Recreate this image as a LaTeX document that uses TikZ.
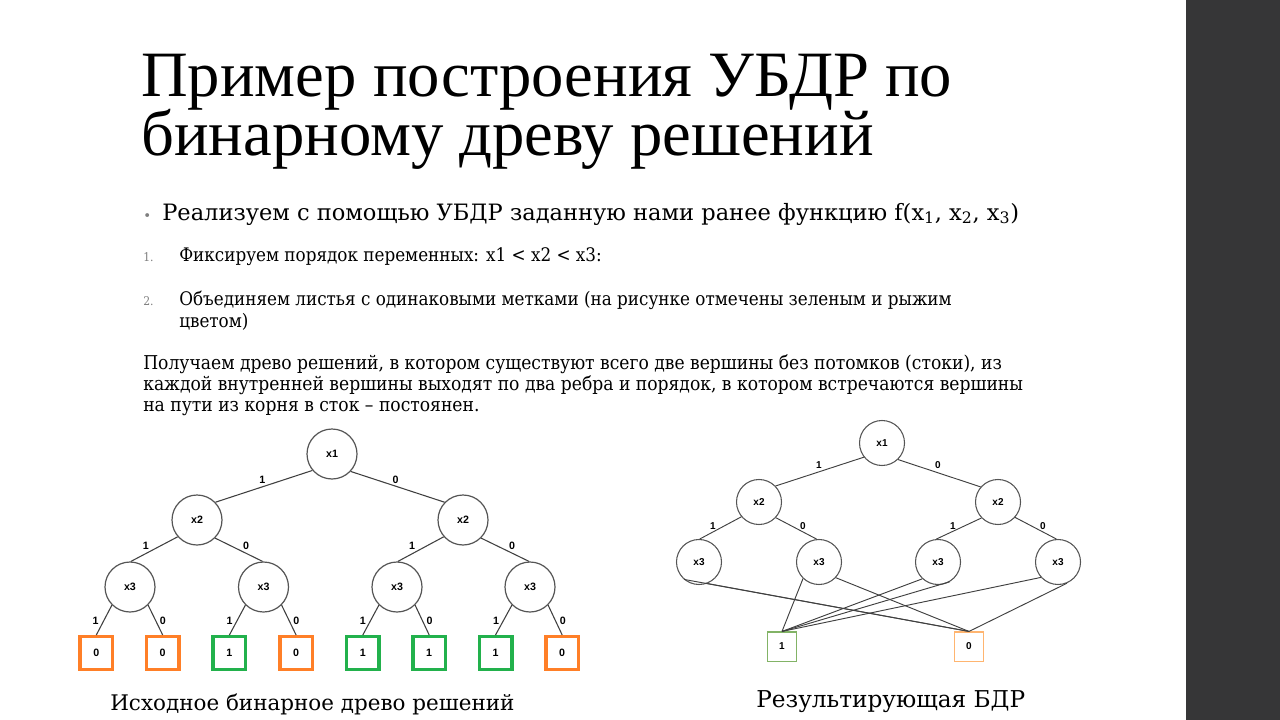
\documentclass[tikz,border=0pt]{standalone}
\usepackage{fontspec}
\setmainfont{Liberation Serif}
\newfontfamily\bodyfont{DejaVu Serif}
\newfontfamily\condfont{DejaVu Serif Condensed}
\newfontfamily\diagfont{Liberation Sans}
\definecolor{sidebar}{HTML}{363637}
\definecolor{numgray}{HTML}{7F7F7F}
\definecolor{ringgray}{HTML}{555555}
\definecolor{edgegray}{HTML}{404040}
\definecolor{leafgreen}{HTML}{22B14C}
\definecolor{leaforange}{HTML}{FF7F27}
\definecolor{sinkgreen}{HTML}{82B366}
\definecolor{sinkorange}{HTML}{FFB570}
\tikzset{
  titletext/.style={anchor=base west, inner sep=0pt, font=\fontsize{48.5}{48.5}\selectfont},
  bullettext/.style={anchor=base west, inner sep=0pt, font=\bodyfont\fontsize{16.9}{20}\selectfont},
  itemtext/.style={anchor=base west, inner sep=0pt, font=\condfont\fontsize{14}{16}\selectfont},
  numtext/.style={anchor=base west, inner sep=0pt, text=numgray, font=\condfont\fontsize{9}{11}\selectfont},
  paratext/.style={anchor=base west, inner sep=0pt, font=\condfont\fontsize{14.3}{16}\selectfont},
  captext/.style={anchor=base west, inner sep=0pt, font=\bodyfont\fontsize{16.1}{20}\selectfont},
  lnode/.style={circle, draw=ringgray, line width=0.9pt, minimum size=37.5pt, inner sep=0pt,
    font=\diagfont\bfseries\fontsize{8}{8}\selectfont},
  rnode/.style={circle, draw=ringgray, line width=0.8pt, minimum size=33.75pt, inner sep=0pt,
    font=\diagfont\bfseries\fontsize{7.5}{7.5}\selectfont},
  leafbox/.style={rectangle, line width=2.6pt, minimum size=24.4pt, inner sep=0pt,
    font=\diagfont\bfseries\fontsize{8}{8}\selectfont},
  sinkbox/.style={rectangle, line width=0.8pt, minimum size=21.8pt, inner sep=0pt,
    font=\diagfont\bfseries\fontsize{7.5}{7.5}\selectfont},
  edge/.style={draw=edgegray, line width=0.8pt},
  redge/.style={draw=edgegray, line width=0.7pt},
  elab/.style={inner sep=0pt, font=\diagfont\bfseries\fontsize{8}{8}\selectfont},
  relab/.style={inner sep=0pt, font=\diagfont\bfseries\fontsize{7.5}{7.5}\selectfont},
}
\begin{document}
\begin{tikzpicture}[x=0.75pt, y=-0.75pt]
\useasboundingbox (0,0) rectangle (1280,720);
\fill[white] (0,0) rectangle (1280,720);
\fill[sidebar] (1186,0) rectangle (1280,720);

% heading
\node[titletext] (title1) at (141,97) {Пример построения УБДР по};
\node[titletext] (title2) at (141,156) {бинарному древу решений};

% bullet and numbered items
\node[anchor=base west, inner sep=0pt, text=numgray, font=\bodyfont\fontsize{10}{10}\selectfont] (dot) at (143,220) {•};
\node[bullettext] (bul) at (162,220) {Реализуем с помощью УБДР заданную нами ранее функцию f(x\textsubscript{1}, x\textsubscript{2}, x\textsubscript{3})};
\node[numtext] (n1) at (143,262) {1.};
\node[itemtext] (it1) at (179,262) {Фиксируем порядок переменных: x1 < x2 < x3:};
\node[numtext] (n2) at (143,305) {2.};
\node[itemtext] (it2a) at (179,305) {Объединяем листья с одинаковыми метками (на рисунке отмечены зеленым и рыжим};
\node[itemtext] (it2b) at (179,327) {цветом)};
\node[paratext] (p1) at (143,369) {Получаем древо решений, в котором существуют всего две вершины без потомков (стоки), из};
\node[paratext] (p2) at (143,390) {каждой внутренней вершины выходят по два ребра и порядок, в котором встречаются вершины};
\node[paratext] (p3) at (143,411) {на пути из корня в сток – постоянен.};

% full binary decision tree
\node[lnode] (a1) at (332,454) {x1};
\node[lnode] (a2) at (197,520) {x2};
\node[lnode] (a3) at (463,520) {x2};
\node[lnode] (a4) at (130,587) {x3};
\node[lnode] (a5) at (263.5,587) {x3};
\node[lnode] (a6) at (397,587) {x3};
\node[lnode] (a7) at (530,587) {x3};
\node[leafbox, draw=leaforange] (f1) at (96.3,653) {0};
\node[leafbox, draw=leaforange] (f2) at (162.7,653) {0};
\node[leafbox, draw=leafgreen]  (f3) at (229.4,653) {1};
\node[leafbox, draw=leaforange] (f4) at (296.1,653) {0};
\node[leafbox, draw=leafgreen]  (f5) at (362.8,653) {1};
\node[leafbox, draw=leafgreen]  (f6) at (429.2,653) {1};
\node[leafbox, draw=leafgreen]  (f7) at (495.5,653) {1};
\node[leafbox, draw=leaforange] (f8) at (562.2,653) {0};

\draw[edge] (a1.220) -- (a2.44);
\draw[edge] (a1.317) -- (a3.136);
\draw[edge] (a2.221) -- (a4.88);
\draw[edge] (a2.315) -- (a5.92);
\draw[edge] (a3.221) -- (a6.88);
\draw[edge] (a3.315) -- (a7.92);
\draw[edge] (a4.225) -- (f1.north);
\draw[edge] (a4.315) -- (f2.north);
\draw[edge] (a5.225) -- (f3.north);
\draw[edge] (a5.315) -- (f4.north);
\draw[edge] (a6.225) -- (f5.north);
\draw[edge] (a6.315) -- (f6.north);
\draw[edge] (a7.225) -- (f7.north);
\draw[edge] (a7.315) -- (f8.north);

\node[elab] (la1) at (262.4,480) {1};
\node[elab] (la2) at (395.6,480) {0};
\node[elab] (la3) at (145.8,546) {1};
\node[elab] (la4) at (246.2,546) {0};
\node[elab] (la5) at (412.2,546) {1};
\node[elab] (la6) at (512.2,546) {0};
\node[elab] (lb1) at (95.6,621) {1};
\node[elab] (lb2) at (162.8,621) {0};
\node[elab] (lb3) at (229.6,621) {1};
\node[elab] (lb4) at (296.3,621) {0};
\node[elab] (lb5) at (362.8,621) {1};
\node[elab] (lb6) at (429.6,621) {0};
\node[elab] (lb7) at (496,621) {1};
\node[elab] (lb8) at (562.8,621) {0};

\node[captext] (capl) at (110,710) {Исходное бинарное древо решений};

% reduced diagram
\node[rnode] (b1) at (882,443) {x1};
\node[rnode] (b2) at (759,502) {x2};
\node[rnode] (b3) at (998,502) {x2};
\node[rnode] (b4) at (699,562) {x3};
\node[rnode] (b5) at (819,562) {x3};
\node[rnode] (b6) at (938,562) {x3};
\node[rnode] (b7) at (1058,562) {x3};
\node[sinkbox, draw=sinkgreen]  (t1) at (782,646.5) {1};
\node[sinkbox, draw=sinkorange] (t0) at (969,646.5) {0};

\draw[redge] (b1.218) -- (b2.44);
\draw[redge] (b1.314) -- (b3.139);
\draw[redge] (b2.220) -- (b4.88);
\draw[redge] (b2.317) -- (b5.96);
\draw[redge] (b3.224) -- (b6.94);
\draw[redge] (b3.318) -- (b7.94);
\draw[redge] (b4.229) -- (t0.north);
\draw[redge] (b4.291) -- (t0.north);
\draw[redge] (b5.226) -- (t1.north);
\draw[redge] (b5.317) -- (t0.north);
\draw[redge] (b6.227) -- (t1.north);
\draw[redge] (b6.301) -- (t1.north);
\draw[redge] (b7.222) -- (t1.north);
\draw[redge] (b7.293) -- (t0.north);

\node[relab] (lc1) at (819,465) {1};
\node[relab] (lc2) at (938,465) {0};
\node[relab] (lc3) at (713,526) {1};
\node[relab] (lc4) at (803,526) {0};
\node[relab] (lc5) at (953,526) {1};
\node[relab] (lc6) at (1043,526) {0};

\node[captext, font=\bodyfont\fontsize{17.4}{20}\selectfont] (capr) at (756,707) {Результирующая БДР};
\end{tikzpicture}
\end{document}
